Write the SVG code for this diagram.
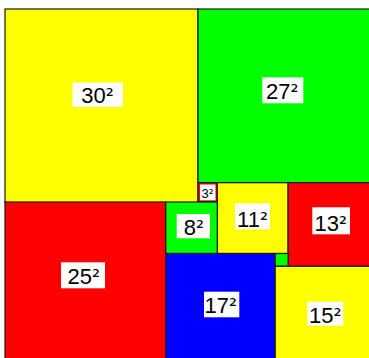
<svg xmlns="http://www.w3.org/2000/svg" width="369" height="358" viewBox="0 0 369 358">
<style>
.sq{stroke:#1a1a1a;stroke-width:1.2}
.y{fill:#ffff00}.g{fill:#00ff00}.r{fill:#ff0000}.b{fill:#0000ff}
.lb{fill:#ffffff}
.t{font-family:"Liberation Sans",Arial,sans-serif;font-size:22px;fill:#000;text-anchor:middle}
.ts{font-family:"Liberation Sans",Arial,sans-serif;font-size:13px;fill:#000;text-anchor:middle}
.p{font-family:"DejaVu Sans",sans-serif;font-size:20px}
.ps{font-family:"DejaVu Sans",sans-serif;font-size:12px}
</style>
<rect width="369" height="358" fill="#ffffff"/>
<g id="sq30"><rect class="sq y" x="5" y="9" width="193" height="193.7"/><rect class="lb" x="72.5" y="82.5" width="50.5" height="24.5"/><text class="t" x="97.5" y="103.3">30<tspan class="p">²</tspan></text></g>
<g id="sq27"><rect class="sq g" x="198" y="9" width="173.7" height="173.7"/><rect class="lb" x="262.3" y="77.3" width="41" height="26"/><text class="t" x="282.3" y="99.3">27<tspan class="p">²</tspan></text></g>
<g id="sq25"><rect class="sq r" x="5" y="202" width="160.8" height="160.8"/><rect class="lb" x="61" y="262.3" width="44" height="26"/><text class="t" x="83.8" y="284.3">25<tspan class="p">²</tspan></text></g>
<g id="sq3"><rect class="sq r" x="198" y="182.7" width="19.3" height="19.3"/><rect class="lb" x="200" y="184.5" width="15.5" height="15.8"/><text class="ts" x="207.5" y="197.5">3<tspan class="ps">²</tspan></text></g>
<g id="sq11"><rect class="sq y" x="217.3" y="182.7" width="70.8" height="70.8"/><rect class="lb" x="235" y="203.3" width="35" height="26"/><text class="t" x="252.5" y="226.7">11<tspan class="p">²</tspan></text></g>
<g id="sq13"><rect class="sq r" x="288.1" y="182.7" width="83.6" height="83.6"/><rect class="lb" x="312.3" y="207.3" width="37.7" height="27"/><text class="t" x="330.8" y="230.7">13<tspan class="p">²</tspan></text></g>
<g id="sq8"><rect class="sq g" x="165.8" y="202" width="51.5" height="51.5"/><rect class="lb" x="176.7" y="214" width="33.3" height="24.3"/><text class="t" x="194" y="235">8<tspan class="p">²</tspan></text></g>
<g id="sq17"><rect class="sq b" x="165.8" y="253.5" width="109.4" height="109.4"/><rect class="lb" x="204" y="291.7" width="35.3" height="25.6"/><text class="t" x="220.8" y="313.3">17<tspan class="p">²</tspan></text></g>
<g id="sq2"><rect class="sq g" x="275.2" y="253.5" width="12.9" height="12.8"/></g>
<g id="sq15"><rect class="sq y" x="275.2" y="266.3" width="96.5" height="96.5"/><rect class="lb" x="307.3" y="301.7" width="36" height="24"/><text class="t" x="325.3" y="323.3">15<tspan class="p">²</tspan></text></g>
<g id="connectors"></g>
</svg>
